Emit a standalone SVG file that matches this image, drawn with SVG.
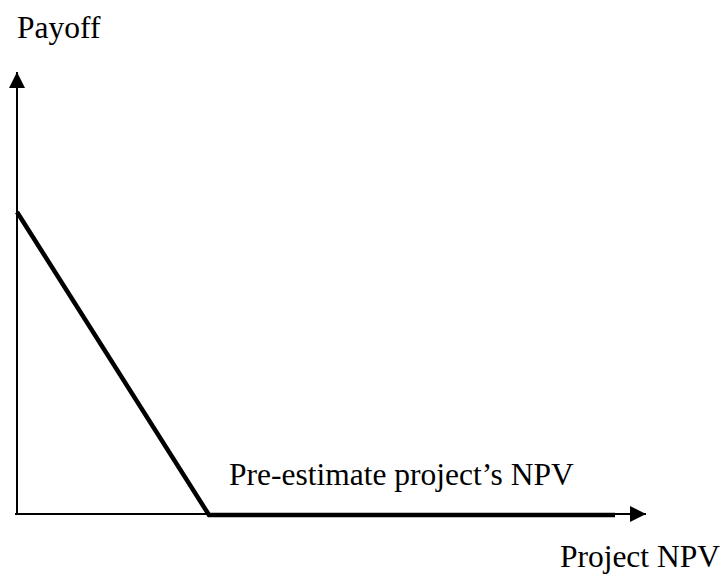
<svg xmlns="http://www.w3.org/2000/svg" width="723" height="581" viewBox="0 0 723 581">
  <style>
    text { font-family: 'Liberation Serif', 'Times New Roman', serif; font-size: 31.5px; fill: #000; }
    .axis { stroke: #000; stroke-width: 2; fill: none; }
    .payoff { stroke: #000; stroke-width: 4.5; fill: none; stroke-linecap: butt; }
  </style>
  <defs>
    <marker id="arrow" markerWidth="16" markerHeight="16" refX="16" refY="8" orient="auto" markerUnits="userSpaceOnUse">
      <path d="M0,0 L16,8 L0,16 Z" fill="#000"/>
    </marker>
  </defs>
  <rect width="723" height="581" fill="#fff"/>
  <g id="axes">
    <line class="axis" x1="17" y1="514" x2="17" y2="72" marker-end="url(#arrow)"/>
    <line class="axis" x1="15" y1="514" x2="646" y2="514" marker-end="url(#arrow)"/>
  </g>
  <g id="payoff-line">
    <polyline class="payoff" points="17,212 209,515 615,515"/>
  </g>
  <g id="labels">
    <text x="17" y="38">Payoff</text>
    <text x="229" y="485">Pre-estimate project’s NPV</text>
    <text x="720" y="567" text-anchor="end">Project NPV</text>
  </g>
</svg>
